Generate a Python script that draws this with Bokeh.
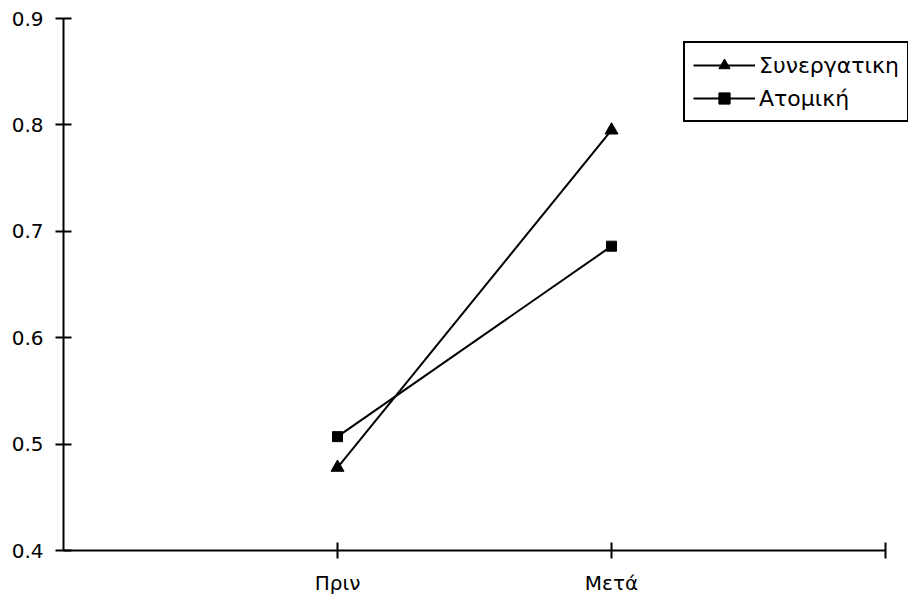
from bokeh.plotting import figure
from bokeh.models import Range1d, FixedTicker, Legend, LegendItem
from bokeh.embed import file_html
from bokeh.resources import INLINE

# Data
categories = ["Πριν", "Μετά"]
series_names = ["Συνεργατικη", "Ατομική"]
synergatiki = [0.478, 0.795]
atomiki = [0.507, 0.686]
y_ticks = [0.4, 0.5, 0.6, 0.7, 0.8, 0.9]

FONT = "DejaVu Sans"

x_pos = [i + 1 for i in range(len(categories))]
x_end = len(categories) + 1

# The frame runs a little past the last x tick so the legend box fits;
# the x axis line itself is bounded to [0, x_end].
axis_px = 822
frame_px = 845

p = figure(width=914, height=607, output_backend="svg", toolbar_location=None,
           x_range=Range1d(0, x_end * frame_px / axis_px),
           y_range=Range1d(0.4, 0.9),
           min_border_left=63, min_border_right=914 - 63 - frame_px,
           min_border_top=18, min_border_bottom=57)
p.outline_line_color = None
p.grid.visible = False
p.background_fill_color = "white"
p.border_fill_color = "white"

# Axes styling
for ax in (p.xaxis[0], p.yaxis[0]):
    ax.axis_line_color = "black"
    ax.axis_line_width = 2
    ax.major_tick_line_color = "black"
    ax.major_tick_line_width = 2
    ax.major_tick_in = 8
    ax.major_tick_out = 8
    ax.minor_tick_line_color = None
    ax.major_label_text_font = FONT
    ax.major_label_text_font_size = "20px"
    ax.major_label_text_color = "black"

p.yaxis.ticker = FixedTicker(ticks=y_ticks)
p.yaxis.major_label_standoff = 12
p.yaxis.major_label_overrides = {t: f"{t:.1f}" for t in y_ticks}

p.xaxis.bounds = (0, x_end)
p.xaxis.ticker = FixedTicker(ticks=x_pos + [x_end])
overrides = {x: c for x, c in zip(x_pos, categories)}
overrides[x_end] = ""
p.xaxis.major_label_overrides = overrides
p.xaxis.major_label_standoff = 12

# Series
l1 = p.line(x_pos, synergatiki, line_color="black", line_width=2)
m1 = p.scatter(x_pos, synergatiki, marker="triangle", size=13,
               fill_color="black", line_color="black")
l2 = p.line(x_pos, atomiki, line_color="black", line_width=2)
m2 = p.scatter(x_pos, atomiki, marker="square", size=10,
               fill_color="black", line_color="black")

legend = Legend(items=[LegendItem(label=series_names[0], renderers=[l1, m1]),
                       LegendItem(label=series_names[1], renderers=[l2, m2])],
                location=(620, 428))
legend.border_line_color = "black"
legend.border_line_alpha = 1
legend.border_line_width = 2
legend.background_fill_color = "white"
legend.background_fill_alpha = 1
legend.label_text_font = FONT
legend.label_text_font_size = "22px"
legend.label_text_color = "black"
legend.glyph_width = 62
legend.glyph_height = 28
legend.label_height = 28
legend.label_standoff = 4
legend.spacing = 5
legend.padding = 8
legend.margin = 0
p.add_layout(legend, "center")

open("out.html", "w").write(file_html(p, INLINE))
